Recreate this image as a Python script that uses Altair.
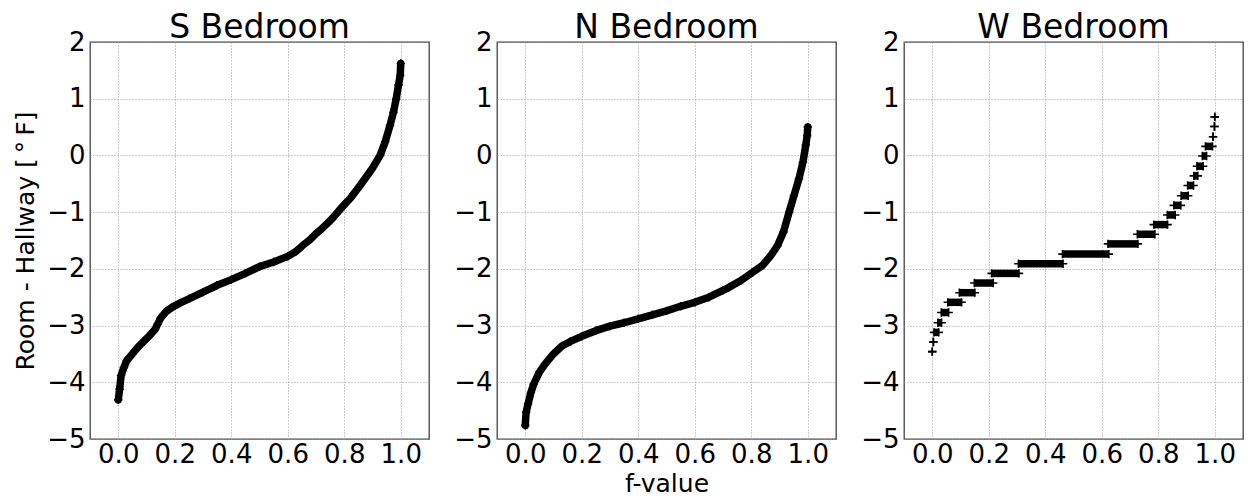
import altair as alt
import pandas as pd

# ---- S Bedroom (sorted values vs f-value) ----
s_f = [0.0, 0.005, 0.01, 0.02, 0.03, 0.05, 0.07, 0.09, 0.11, 0.13, 0.14, 0.15, 0.17, 0.19,
       0.22, 0.25, 0.30, 0.35, 0.40, 0.45, 0.50, 0.55, 0.60, 0.63, 0.65, 0.68, 0.70, 0.721,
       0.756, 0.798, 0.821, 0.856, 0.898, 0.927, 0.945, 0.962, 0.974, 0.984, 0.992, 0.998, 1.0]
s_val = [-4.31, -4.12, -3.88, -3.74, -3.62, -3.50, -3.38, -3.28, -3.18, -3.07, -2.97, -2.87,
         -2.75, -2.68, -2.60, -2.53, -2.41, -2.29, -2.19, -2.08, -1.96, -1.88, -1.78, -1.69,
         -1.60, -1.48, -1.38, -1.29, -1.12, -0.88, -0.76, -0.53, -0.24, 0.0, 0.24, 0.53,
         0.76, 1.0, 1.24, 1.41, 1.62]

# ---- N Bedroom ----
n_f = [0.0, 0.003, 0.01, 0.02, 0.03, 0.05, 0.07, 0.10, 0.13, 0.16, 0.20, 0.25, 0.30, 0.35,
       0.40, 0.45, 0.50, 0.55, 0.60, 0.65, 0.70, 0.72, 0.765, 0.805, 0.84, 0.87, 0.893, 0.914,
       0.934, 0.951, 0.969, 0.983, 0.993, 0.998, 1.0]
n_val = [-4.76, -4.53, -4.38, -4.18, -4.03, -3.82, -3.68, -3.50, -3.36, -3.28, -3.19, -3.09,
         -3.01, -2.95, -2.88, -2.81, -2.74, -2.66, -2.59, -2.50, -2.38, -2.33, -2.20, -2.06,
         -1.94, -1.76, -1.59, -1.35, -1.00, -0.71, -0.41, -0.12, 0.18, 0.35, 0.50]

# ---- W Bedroom (quantised levels, f-range covered by each level) ----
w_val = [-3.46, -3.29, -3.12, -2.95, -2.77, -2.59, -2.42, -2.25, -2.08, -1.91, -1.74, -1.56,
         -1.39, -1.22, -1.05, -0.88, -0.71, -0.53, -0.36, -0.19, -0.01, 0.16, 0.33, 0.51, 0.68]
w_f0 = [0.0, 0.004, 0.006, 0.020, 0.032, 0.055, 0.096, 0.149, 0.210, 0.305, 0.461, 0.622,
        0.726, 0.784, 0.832, 0.855, 0.881, 0.904, 0.926, 0.937, 0.956, 0.967, 0.994, 0.999, 1.0]
w_f1 = [0.0, 0.004, 0.023, 0.033, 0.058, 0.104, 0.151, 0.216, 0.307, 0.463, 0.625, 0.728,
        0.788, 0.833, 0.860, 0.880, 0.906, 0.925, 0.940, 0.959, 0.971, 0.992, 0.994, 0.999, 1.0]

titles = ["S Bedroom", "N Bedroom", "W Bedroom"]
x_ticks = [0.0, 0.2, 0.4, 0.6, 0.8, 1.0]
y_ticks = [-5, -4, -3, -2, -1, 0, 1, 2]

FONT = "DejaVu Sans"
PLUS = "M-1,0L1,0M0,-1L0,1"
W, H = 339, 397
MINUS = "replace(datum.label, '-', '\u2212')"


def xenc(field, title):
    return alt.X(field, type="quantitative",
                 scale=alt.Scale(domain=[-0.1, 1.1], nice=False, zero=False),
                 axis=alt.Axis(values=x_ticks, format=".1f", title=title))


def yenc(title):
    return alt.Y("v:Q", scale=alt.Scale(domain=[-5, 2], nice=False, zero=False),
                 axis=alt.Axis(values=y_ticks, format="d", title=title, labelExpr=MINUS))


def ttl(t):
    return alt.TitleParams(t, fontSize=33, font=FONT, fontWeight="normal", color="black", offset=-16)


def curve(f, v, title, ytitle, xtitle):
    df = pd.DataFrame({"f": f, "v": v})
    base = alt.Chart(df)
    line = base.mark_line(color="black", strokeWidth=7.5, strokeCap="round",
                          strokeJoin="round").encode(x=xenc("f", xtitle), y=yenc(ytitle), order="f:Q")
    pts = base.mark_point(shape=PLUS, size=70, filled=False, stroke="black", strokeWidth=1.6,
                          opacity=1).encode(x=xenc("f", xtitle), y=yenc(ytitle))
    return alt.layer(line, pts).properties(width=W, height=H, title=ttl(title))


def steps(title):
    df = pd.DataFrame({"f0": w_f0, "f1": w_f1, "v": w_val})
    base = alt.Chart(df)
    bars = base.mark_rule(color="black", strokeWidth=7.5, strokeCap="butt").encode(
        x=xenc("f0", ""), x2="f1", y=yenc(""))
    p0 = base.mark_point(shape=PLUS, size=70, filled=False, stroke="black", strokeWidth=1.6,
                         opacity=1).encode(x=xenc("f0", ""), y=yenc(""))
    p1 = base.mark_point(shape=PLUS, size=70, filled=False, stroke="black", strokeWidth=1.6,
                         opacity=1).encode(x=xenc("f1", ""), y=yenc(""))
    return alt.layer(bars, p0, p1).properties(width=W, height=H, title=ttl(title))


c1 = curve(s_f, s_val, titles[0], "Room - Hallway [\u2009\u00b0\u2009F]", "")
c2 = curve(n_f, n_val, titles[1], "", "f-value")
c3 = steps(titles[2])

chart = alt.hconcat(c1, c2, c3, spacing=68, bounds="flush").configure_view(
    stroke="#444", strokeWidth=1.3
).configure_axis(
    labelFont=FONT, labelFontSize=26, labelColor="black",
    titleFont=FONT, titleFontSize=25, titleFontWeight="normal", titleColor="black",
    grid=True, gridColor="#9a9a9a", gridDash=[1, 2], gridWidth=1,
    domain=False, ticks=False, tickSize=0
).configure_axisX(
    labelPadding=2, titlePadding=4
).configure_axisY(
    labelPadding=5, titlePadding=8
).properties(background="white", padding={"left": 5, "top": 3, "right": 5, "bottom": 3})

chart.save("out.html", embed_options={"renderer": "svg", "actions": False})
